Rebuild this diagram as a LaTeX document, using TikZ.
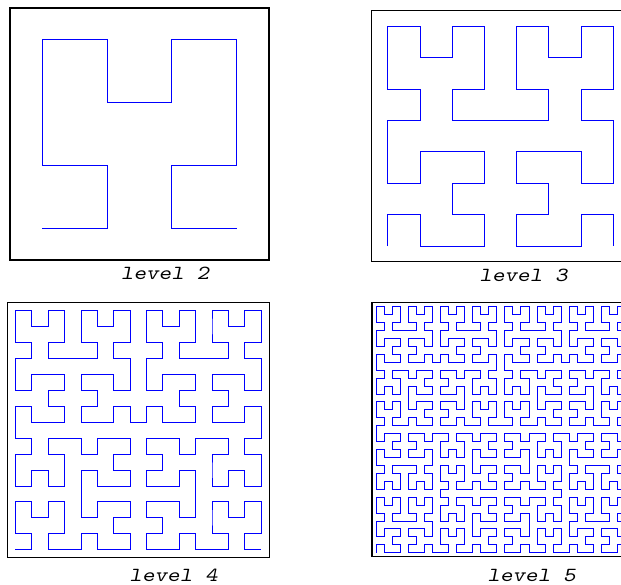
\documentclass[tikz,border=0pt]{standalone}
\usepackage{fontspec}
\usepackage{graphicx}
\newcommand\lbltext[1]{\scalebox{1.2}[1]{\ttfamily\slshape\fontsize{20}{24}\selectfont #1}}
\newcount\hilX \newcount\hilY \newcount\hilS \newcount\hilT
\newcount\hilRX \newcount\hilRY \newcount\hilTmp \newcount\hilD \newcount\hilN
\makeatletter
\def\hilbertpoint{%
  \hilX=0 \hilY=0 \hilT=\hilD \hilS=1
  \loop\ifnum\hilS<\hilN
    \hilTmp=\hilT \divide\hilTmp by 2
    \hilRX=\hilTmp \divide\hilRX by 2 \multiply\hilRX by 2
    \hilRX=-\hilRX \advance\hilRX by \hilTmp
    \hilRY=\hilT \divide\hilRY by 2 \multiply\hilRY by 2
    \hilRY=-\hilRY \advance\hilRY by \hilT
    \ifnum\hilRY=\hilRX \hilRY=0 \else \hilRY=1 \fi
    \ifnum\hilRY=0
      \ifnum\hilRX=1
        \hilX=-\hilX \advance\hilX by \hilS \advance\hilX by -1
        \hilY=-\hilY \advance\hilY by \hilS \advance\hilY by -1
      \fi
      \hilTmp=\hilX \hilX=\hilY \hilY=\hilTmp
    \fi
    \hilTmp=\hilS \multiply\hilTmp by \hilRX \advance\hilX by \hilTmp
    \hilTmp=\hilS \multiply\hilTmp by \hilRY \advance\hilY by \hilTmp
    \divide\hilT by 4
    \multiply\hilS by 2
  \repeat
}
\newcommand\buildhilbert[1]{%
  \global\hilN=#1\relax
  \pgfmathtruncatemacro\hillast{#1*#1-1}%
  \gdef\hilpath{}%
  \foreach \dd in {0,...,\hillast}{%
    \hilD=\dd\relax
    \hilbertpoint
    \ifnum\hilD=0
      \xdef\hilpath{(\the\hilX,\the\hilY)}%
    \else
      \xdef\hilpath{\hilpath -- (\the\hilX,\the\hilY)}%
    \fi
  }%
}
% #1 N, #2 left, #3 bottom, #4 cell width, #5 cell height
\newcommand\drawhilbert[5]{%
  \buildhilbert{#1}%
  \begin{scope}[shift={(#2+#4/2,#3-#5/2)}, x={#4pt}, y={#5pt}]
    \edef\hiltmp{\noexpand\draw[curve] \hilpath;}\hiltmp
  \end{scope}
}
\makeatother
\begin{document}
\begin{tikzpicture}[x=1pt,y=-1pt,
  frame/.style={draw=black, line width=1.3pt},
  curve/.style={draw=blue, line width=0.9pt, line join=miter},
  lbl/.style={inner sep=0pt, anchor=base}]
\useasboundingbox (0,0) rectangle (621,585);
% level 2
\draw[frame] (10,8) rectangle (269,260);
\drawhilbert{4}{10}{260}{64.75}{63}
\node[lbl] (lbl2) at (165,279.3) {\lbltext{level 2}};
% level 3
\draw[frame] (371.7,10.7) rectangle (629.3,261.7);
\drawhilbert{8}{371.7}{261.7}{32.2}{31.375}
\node[lbl] (lbl3) at (523.5,281.7) {\lbltext{level 3}};
% level 4
\draw[frame] (7.3,302.7) rectangle (269.3,557.7);
\drawhilbert{16}{7.3}{557.7}{16.375}{15.94}
\node[lbl] (lbl4) at (173.5,581.3) {\lbltext{level 4}};
% level 5
\draw[frame] (372,302.7) rectangle (629.6,556.7);
\drawhilbert{32}{372}{556.7}{8.05}{7.9375}
\node[lbl] (lbl5) at (531.5,581) {\lbltext{level 5}};
\end{tikzpicture}
\end{document}
